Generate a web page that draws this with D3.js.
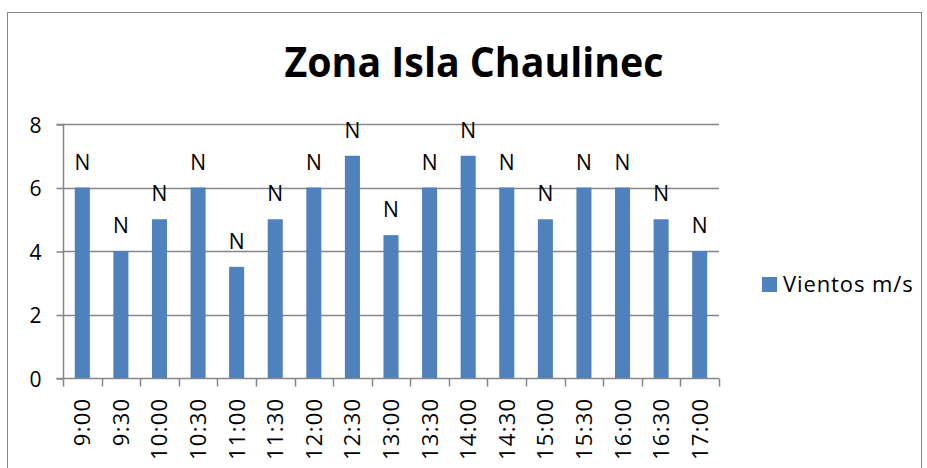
<!DOCTYPE html>
<html>
<head>
<meta charset="utf-8">
<script src="https://cdn.jsdelivr.net/npm/d3@7"></script>
<style>
  html, body { margin: 0; padding: 0; background: #fff; }
  svg { display: block; }
  text { font-family: "Open Sans", Lato, sans-serif; fill: #000; }
</style>
</head>
<body>
<svg id="chart" width="927" height="468"></svg>
<script>
// Wind readings by half-hour
const horas = ["9:00","9:30","10:00","10:30","11:00","11:30","12:00","12:30","13:00","13:30","14:00","14:30","15:00","15:30","16:00","16:30","17:00"];
const vientos = [6, 4, 5, 6, 3.5, 5, 6, 7, 4.5, 6, 7, 6, 5, 6, 6, 5, 4];
const direccion = ["N","N","N","N","N","N","N","N","N","N","N","N","N","N","N","N","N"];
const yTicks = [0, 2, 4, 6, 8];
const titulo = "Zona Isla Chaulinec";
const serie = "Vientos m/s";

const svg = d3.select("#chart");
const plot = { left: 63, right: 719, top: 124, bottom: 378 };
const barColor = "#4f81bd";
const lineColor = "#868686";

// outer frame
svg.append("rect")
  .attr("x", 7.5).attr("y", 12.5)
  .attr("width", 914).attr("height", 470)
  .attr("fill", "none").attr("stroke", lineColor).attr("stroke-width", 1);

const x = d3.scaleBand().domain(horas).range([plot.left, plot.right]).paddingInner(0).paddingOuter(0);
const y = d3.scaleLinear().domain([0, 8]).range([plot.bottom, plot.top]);

// horizontal gridlines
svg.append("g").selectAll("line").data(yTicks.filter(d => d > 0)).join("line")
  .attr("x1", plot.left).attr("x2", plot.right)
  .attr("y1", d => Math.round(y(d)) + 0.5).attr("y2", d => Math.round(y(d)) + 0.5)
  .attr("stroke", lineColor).attr("stroke-width", 1.5);

// bars
const barW = x.bandwidth() * 0.39;
svg.append("g").selectAll("rect").data(vientos).join("rect")
  .attr("x", (d, i) => x(horas[i]) + (x.bandwidth() - barW) / 2)
  .attr("y", d => y(d))
  .attr("width", barW)
  .attr("height", d => y(0) - y(d))
  .attr("fill", barColor);

// data labels
svg.append("g").selectAll("text").data(vientos).join("text")
  .attr("x", (d, i) => x(horas[i]) + x.bandwidth() / 2)
  .attr("y", d => y(d) - 18)
  .attr("text-anchor", "middle")
  .attr("font-size", 21)
  .text((d, i) => direccion[i]);

// y axis
const yAxis = d3.axisLeft(y).tickValues(yTicks).tickSize(7).tickPadding(15);
const gy = svg.append("g").attr("transform", `translate(${plot.left + 0.5},0.5)`).call(yAxis);
gy.select(".domain").attr("stroke", lineColor).attr("stroke-width", 1.5).attr("d", `M-7,${plot.top}H0V${plot.bottom}H-7`);
gy.selectAll(".tick line").attr("stroke", lineColor).attr("stroke-width", 1.5);
gy.selectAll(".tick text").attr("font-size", 21).attr("font-family", "'Open Sans', Lato, sans-serif").attr("fill", "#000").attr("dy", "0.36em");

// x axis with ticks at category boundaries
const gx = svg.append("g").attr("transform", `translate(0,${plot.bottom + 0.5})`);
gx.append("line").attr("x1", plot.left).attr("x2", plot.right).attr("stroke", lineColor).attr("stroke-width", 1.5);
const bounds = horas.map(h => x(h)).concat([plot.right]);
gx.selectAll("line.tk").data(bounds).join("line").attr("class", "tk")
  .attr("x1", d => Math.round(d) + 0.5).attr("x2", d => Math.round(d) + 0.5)
  .attr("y1", 0).attr("y2", 8)
  .attr("stroke", lineColor).attr("stroke-width", 1.5);
gx.selectAll("text").data(horas).join("text")
  .attr("transform", d => `translate(${x(d) + x.bandwidth() / 2 + 8},19) rotate(-90)`)
  .attr("text-anchor", "end")
  .attr("font-size", 22)
  .attr("letter-spacing", 1.3)
  .text(d => d);

// title
svg.append("text")
  .attr("x", 474).attr("y", 77)
  .attr("text-anchor", "middle")
  .attr("font-family", "Lato, 'Open Sans', sans-serif")
  .attr("font-size", 42).attr("font-weight", "bold")
  .attr("textLength", 379).attr("lengthAdjust", "spacingAndGlyphs")
  .text(titulo);

// legend
svg.append("rect").attr("x", 762).attr("y", 277).attr("width", 15).attr("height", 15).attr("fill", barColor);
svg.append("text").attr("x", 783).attr("y", 292).attr("font-size", 22).attr("letter-spacing", 0.9).text(serie);
</script>
</body>
</html>
